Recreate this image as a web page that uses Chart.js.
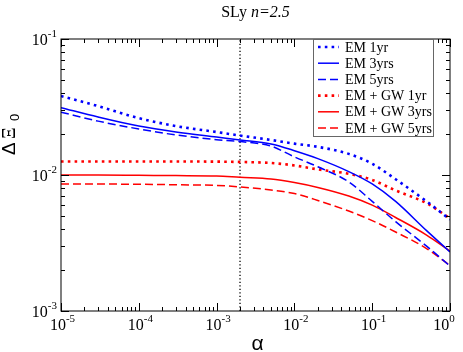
<!DOCTYPE html>
<html>
<head>
<meta charset="utf-8">
<script src="https://cdn.jsdelivr.net/npm/chart.js@4.4.1/dist/chart.umd.min.js"></script>
<style>
  html, body { margin: 0; padding: 0; background: #fff; }
</style>
</head>
<body>
<canvas id="chart" width="463" height="352"></canvas>
<script>
// values (log-log)
var alpha = [1e-5, 3e-5, 1e-4, 3e-4, 1e-3, 2e-3, 5e-3, 1e-2, 2e-2, 5e-2, 1e-1, 2e-1, 5e-1, 1];
var em1yr = [0.0381, 0.0321, 0.0262, 0.0229, 0.0207, 0.0195, 0.0181, 0.0170, 0.0161, 0.0143, 0.0121, 0.0093, 0.0064, 0.0047];
var em3yrs = [0.0313, 0.0267, 0.0229, 0.0207, 0.0190, 0.0181, 0.0169, 0.0151, 0.0132, 0.0106, 0.0086, 0.0064, 0.0039, 0.00272];
var em5yrs = [0.0290, 0.0249, 0.0218, 0.0197, 0.0182, 0.0176, 0.0163, 0.0136, 0.0115, 0.0089, 0.0064, 0.00454, 0.0030, 0.00214];
var gw1yr = [0.01256, 0.01256, 0.01256, 0.01256, 0.01254, 0.01247, 0.01226, 0.01175, 0.0110, 0.0102, 0.0092, 0.0077, 0.0062, 0.0048];
var gw3yrs = [0.0100, 0.0100, 0.00995, 0.0099, 0.00984, 0.00962, 0.00935, 0.0088, 0.0081, 0.0070, 0.0060, 0.00487, 0.00362, 0.00276];
var gw5yrs = [0.00859, 0.00858, 0.00855, 0.00848, 0.00838, 0.00817, 0.00776, 0.0073, 0.0065, 0.00543, 0.00462, 0.00381, 0.00288, 0.00216];
var alphaMark = 2e-3;   // vertical dotted line

var xTickExp = [-5, -4, -3, -2, -1, 0];
var yTickExp = [-3, -2, -1];
var seriesNames = ['EM 1yr', 'EM 3yrs', 'EM 5yrs', 'EM + GW 1yr', 'EM + GW 3yrs', 'EM + GW 5yrs'];

var SERIF = '"Liberation Serif", "DejaVu Serif", serif';
var SANS = '"Liberation Sans", Arial, sans-serif';

function pts(ys) {
    return alpha.map(function (a, i) { return { x: a, y: ys[i] }; });
}

function line(label, ys, color, kind) {
    var ds = {
        label: label,
        data: pts(ys),
        borderColor: color,
        backgroundColor: color,
        borderWidth: 1.5,
        pointRadius: 0,
        fill: false,
        cubicInterpolationMode: 'monotone'
    };
    if (kind === 'dot') { ds.borderWidth = 2.6; ds.borderDash = [2.6, 4.2]; }
    if (kind === 'dash') { ds.borderDash = [8, 4]; }
    return ds;
}

var datasets = [
    line(seriesNames[0], em1yr, '#0000ff', 'dot'),
    line(seriesNames[1], em3yrs, '#0000ff', 'solid'),
    line(seriesNames[2], em5yrs, '#0000ff', 'dash'),
    line(seriesNames[3], gw1yr, '#ff0000', 'dot'),
    line(seriesNames[4], gw3yrs, '#ff0000', 'solid'),
    line(seriesNames[5], gw5yrs, '#ff0000', 'dash'),
    {
        label: 'mark',
        data: [{ x: alphaMark, y: 1e-3 }, { x: alphaMark, y: 1e-1 }],
        borderColor: '#000',
        borderWidth: 1.3,
        borderDash: [1.3, 2.2],
        pointRadius: 0,
        fill: false
    }
];

// a "10" with an exponent, anchored by its centre
function powLabel(ctx, exp, cx, cy, align) {
    ctx.font = '16px ' + SERIF;
    var base = '10';
    var wb = ctx.measureText(base).width;
    ctx.font = '11px ' + SERIF;
    var e = exp < 0 ? '-' + (-exp) : String(exp);
    var we = ctx.measureText(e).width;
    var total = wb + we;
    var x0 = align === 'right' ? cx - total : cx - total / 2;
    ctx.textAlign = 'left';
    ctx.textBaseline = 'alphabetic';
    ctx.font = '16px ' + SERIF;
    ctx.fillText(base, x0, cy + 5.5);
    ctx.font = '11px ' + SERIF;
    ctx.fillText(e, x0 + wb, cy - 2.5);
}

var axesPlugin = {
    id: 'axesPlugin',
    afterDatasetsDraw: function (chart) {
        var ctx = chart.ctx;
        var a = chart.chartArea;
        var xs = chart.scales.x, ys = chart.scales.y;
        ctx.save();
        ctx.strokeStyle = '#000';
        ctx.lineWidth = 1;
        ctx.strokeRect(a.left, a.top, a.right - a.left, a.bottom - a.top);

        ctx.beginPath();
        xTickExp.forEach(function (p, i) {
            var v = Math.pow(10, p);
            var px = Math.round(xs.getPixelForValue(v)) + 0.5;
            ctx.moveTo(px, a.bottom); ctx.lineTo(px, a.bottom - 8);
            ctx.moveTo(px, a.top); ctx.lineTo(px, a.top + 8);
            if (i < xTickExp.length - 1) {
                for (var m = 2; m <= 9; m++) {
                    var mx = Math.round(xs.getPixelForValue(m * v)) + 0.5;
                    ctx.moveTo(mx, a.bottom); ctx.lineTo(mx, a.bottom - 4);
                    ctx.moveTo(mx, a.top); ctx.lineTo(mx, a.top + 4);
                }
            }
        });
        yTickExp.forEach(function (p, i) {
            var v = Math.pow(10, p);
            var py = Math.round(ys.getPixelForValue(v)) + 0.5;
            ctx.moveTo(a.left, py); ctx.lineTo(a.left + 8, py);
            ctx.moveTo(a.right, py); ctx.lineTo(a.right - 8, py);
            if (i < yTickExp.length - 1) {
                for (var m = 2; m <= 9; m++) {
                    var my = Math.round(ys.getPixelForValue(m * v)) + 0.5;
                    ctx.moveTo(a.left, my); ctx.lineTo(a.left + 4, my);
                    ctx.moveTo(a.right, my); ctx.lineTo(a.right - 4, my);
                }
            }
        });
        ctx.stroke();

        ctx.fillStyle = '#000';
        xTickExp.forEach(function (p) {
            var px = xs.getPixelForValue(Math.pow(10, p));
            powLabel(ctx, p, Math.min(px + 1.5, 444), a.bottom + 13, 'center');
        });
        yTickExp.forEach(function (p) {
            var py = ys.getPixelForValue(Math.pow(10, p));
            powLabel(ctx, p, a.left - 4, py, 'right');
        });

        // axis titles
        ctx.textAlign = 'center';
        ctx.textBaseline = 'middle';
        ctx.font = '21px ' + SANS;
        ctx.fillText('\u03b1', (a.left + a.right) / 2 + 2, 344);

        ctx.save();
        ctx.translate(15, 155);
        ctx.rotate(-Math.PI / 2);
        ctx.textAlign = 'left';
        ctx.textBaseline = 'alphabetic';
        ctx.font = '19px ' + SANS;
        ctx.fillText('\u0394', 0, 0);
        ctx.font = '18px ' + SERIF;
        ctx.fillText('\u039e', 16, 0);
        ctx.font = '13px ' + SANS;
        ctx.fillText('0', 34, 4);
        ctx.restore();

        // title
        ctx.textBaseline = 'alphabetic';
        var t1 = 'SLy ';
        var t2 = 'n=2.5';
        ctx.font = 'italic 16px ' + SERIF;
        var w2 = ctx.measureText(t2).width;
        ctx.font = '16px ' + SERIF;
        var w1 = ctx.measureText(t1).width;
        var tx = (a.left + a.right) / 2 - (w1 + w2) / 2;
        ctx.textAlign = 'left';
        ctx.fillText(t1, tx, 17);
        ctx.font = 'italic 16px ' + SERIF;
        ctx.fillText(t2, tx + w1, 17);

        // legend box
        var bx = 313.5, by = a.top + 0.5, bw = 120, bh = 97;
        ctx.fillStyle = '#fff';
        ctx.fillRect(bx, by, bw, bh);
        ctx.strokeStyle = '#666';
        ctx.lineWidth = 1;
        ctx.strokeRect(bx, by, bw, bh);
        ctx.font = '14px ' + SERIF;
        ctx.textBaseline = 'middle';
        for (var k = 0; k < 6; k++) {
            var ds = chart.data.datasets[k];
            var ry = 47 + 16.2 * k;
            ctx.strokeStyle = ds.borderColor;
            ctx.lineWidth = ds.borderWidth;
            ctx.setLineDash(ds.borderDash || []);
            ctx.beginPath();
            ctx.moveTo(318, ry); ctx.lineTo(339, ry);
            ctx.stroke();
            ctx.setLineDash([]);
            ctx.fillStyle = '#000';
            ctx.fillText(ds.label, 345, ry + 1);
        }
        ctx.restore();
    }
};

new Chart(document.getElementById('chart'), {
    type: 'line',
    data: { datasets: datasets },
    options: {
        responsive: false,
        animation: false,
        layout: { padding: { left: 61, top: 39, right: 13, bottom: 41 } },
        plugins: { legend: { display: false }, tooltip: { enabled: false } },
        scales: {
            x: { type: 'logarithmic', min: 1e-5, max: 1, display: false },
            y: { type: 'logarithmic', min: 1e-3, max: 1e-1, display: false }
        }
    },
    plugins: [axesPlugin]
});
</script>
</body>
</html>
